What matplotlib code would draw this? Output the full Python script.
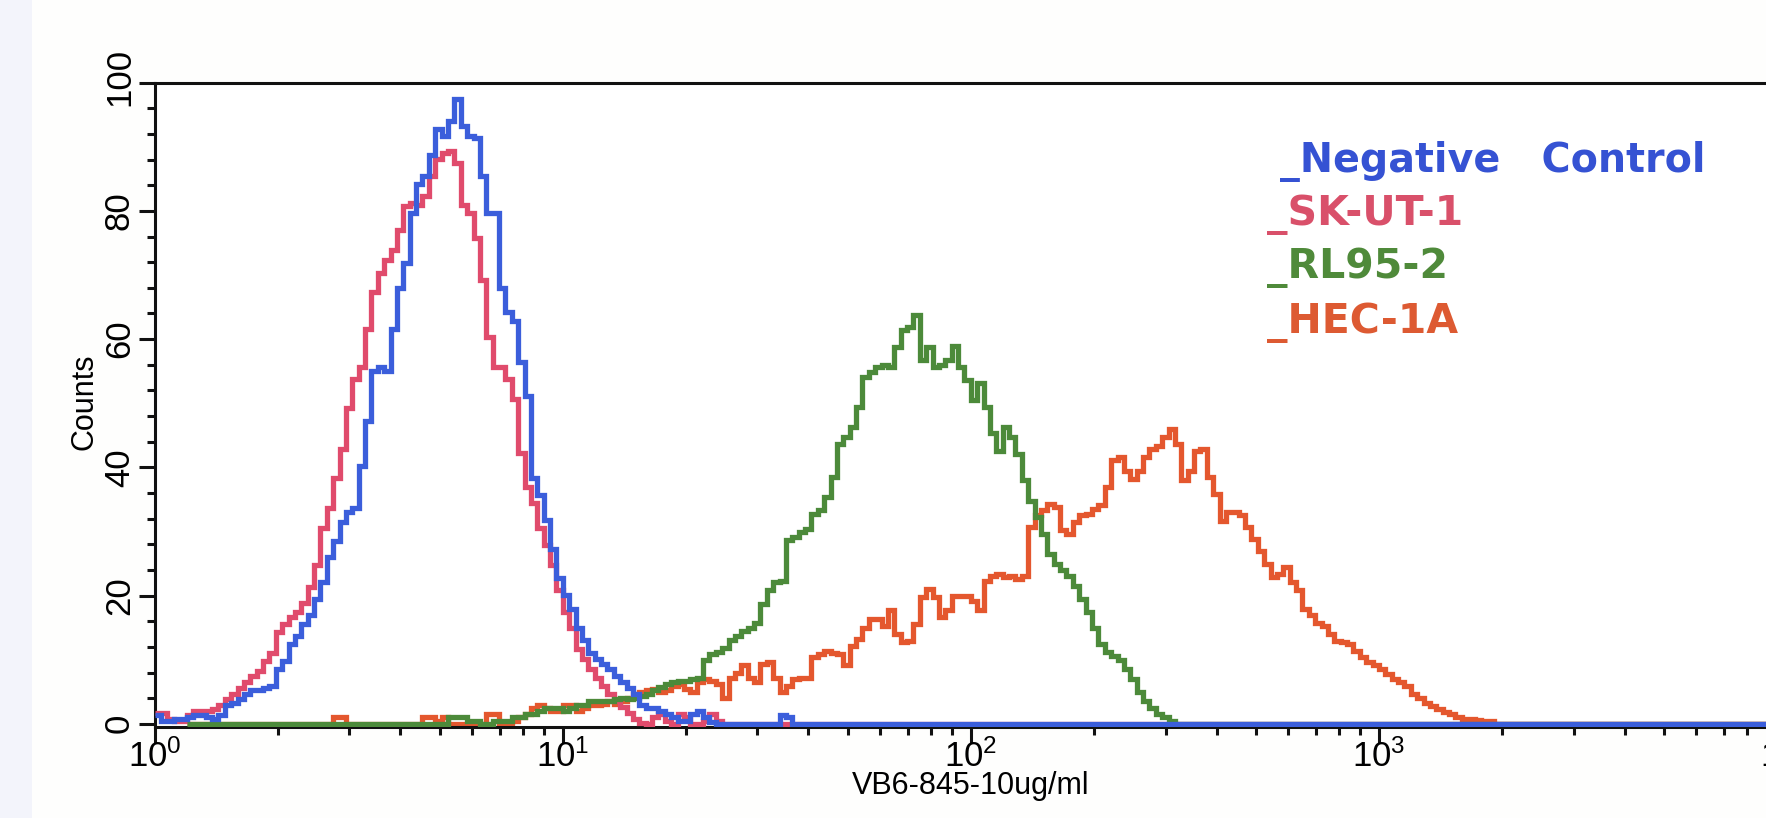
import numpy as np
import matplotlib
matplotlib.use("Agg")
import matplotlib.pyplot as plt
import matplotlib.transforms as mtransforms
from matplotlib.ticker import MultipleLocator, LogLocator, NullFormatter, FixedLocator
from matplotlib.patches import Rectangle

plt.rcParams['font.family'] = ['Liberation Sans', 'DejaVu Sans']
plt.rcParams['mathtext.fontset'] = 'custom'
plt.rcParams['mathtext.rm'] = 'Liberation Sans'
plt.rcParams['mathtext.it'] = 'Liberation Sans:italic'
plt.rcParams['mathtext.bf'] = 'Liberation Sans:bold'

# ---------------- data: 256 log channels spanning 10^0 .. 10^4 ----------------
n_channels = 256
n_decades = 4

# Negative Control (blue), counts from channel 0
neg_start = 0
neg_counts = [1.4, 0.5, 0.5, 0.7, 0.7, 1, 1.4, 1.4, 1, 0.7,
              1.4, 3, 3.3, 3.9, 4.6, 5.2, 5.2, 5.6, 5.9, 8.5,
              9.8, 12.4, 13.7, 15.6, 16.9, 19.5, 22.1, 26, 28.5, 31.5,
              33.1, 33.7, 40.2, 47.3, 55.1, 55.7, 55.1, 61.6, 68, 71.9,
              79.7, 84.2, 85.5, 88.8, 92.7, 91.7, 94, 97.5, 93.3, 91.7,
              91.4, 85.5, 79.7, 79.7, 68, 64.2, 62.9, 56.4, 51.2, 38.3,
              35.7, 31.8, 27.3, 22.7, 20.1, 17.9, 15, 13, 11.1, 10.1,
              9.4, 8.5, 7.5, 6.5, 5.6, 4.6, 3, 2.5, 2.5, 2,
              1.5, 1, 0.5, 0.5, 1.5, 2, 1, 0.3, 0, 0,
              0, 0, 0, 0, 0, 0, 0, 0, 1.3, 1]

# SK-UT-1 (pink-red), counts from channel 0
skut_start = 0
skut_counts = [1.7, 1.7, 0.7, 0.4, 0.4, 1.4, 2, 2, 2, 2.3,
               3, 3.9, 4.6, 5.6, 6.5, 7.5, 8.2, 9.8, 11.1, 14.3,
               15.6, 16.6, 17.5, 18.8, 21.4, 24.7, 30.5, 33.7, 38.3, 42.8,
               49.3, 53.8, 55.7, 61.6, 67.4, 70.3, 72.3, 73.9, 77.1, 80.7,
               81.3, 81, 82.3, 85.5, 88.1, 89.1, 89.4, 87.5, 81, 79.7,
               75.8, 69.3, 60.3, 55.7, 55.7, 53.8, 50.6, 42.2, 37, 34.4,
               30.5, 27.9, 24.7, 20.8, 17.5, 15, 11.7, 10.1, 8.5, 7.2,
               5.9, 4.6, 3.6, 2.6, 1.7, 0.7, 0.1, 0, 1, 1.5,
               0.5, 0, 1.5, 1, 0, 0, 0.5, 1.5, 0.5, 0]

# RL95-2 (green), counts from channel 46 (flat zero line before that)
rl95_start = 46
rl95_counts = [1, 1, 1, 0.5, 0.5, 0, 0, 0.5, 0.5, 0.5,
               1, 1, 1.5, 1.5, 2, 2.5, 2.5, 2.5, 2, 2.5,
               3, 3, 3.5, 3.5,
               3.6, 3.6, 3.9, 4.1, 3.9, 4.1, 4.4, 4.6, 5.2, 5.7,
               6.2, 6.5, 6.7, 6.7, 7, 7.2, 9.9, 10.9, 11.2, 11.9,
               13, 13.7, 14.5, 15, 15.8, 18.7, 20.8, 22.1, 22.3, 28.6,
               29.1, 29.9, 30.4, 32.8, 33.3, 35.4, 38.5, 43.7, 44.7, 46.3,
               49.4, 54.1, 54.9, 55.7, 55.9, 55.7, 58.8, 61.4, 61.9, 63.7,
               56.7, 58.8, 55.7, 55.9, 56.7, 59, 55.7, 53.6, 50.5, 53.1,
               49.4, 45.3, 42.6, 46.3, 44.7, 42.1, 38, 34.8, 32.2, 29.6,
               26.5, 24.9, 24, 23, 21.5, 19.5, 17.5, 15, 12.5, 11.2,
               10.5, 10, 8.5, 7, 5, 3.5, 2.5, 1.5, 1, 0.5, 0]

# HEC-1A (orange-red), counts from channel 28 (flat zero line before that)
hec_start = 28
hec_counts = [1, 1, 0, 0, 0, 0, 0, 0, 0, 0, 0, 0, 0, 0,
              1, 1, 0.5, 1, 0, 0, 0, 0, 0, 0, 1.5, 1.5, 0, 0,
              0.5, 1, 1.5, 2.5, 3, 2.5, 2, 2, 3, 3, 2, 2.5, 3, 3,
              3.1, 3.6, 3.1, 3.6, 4.1, 4.6, 4.9, 5.2, 5.4, 4.9,
              5.2, 5.9, 6.2, 5.4, 4.9, 6.5, 7, 6.7, 6.2, 4.1,
              7.2, 8, 9.1, 7.2, 6.5, 9.3, 9.6, 7.2, 4.9, 5.9,
              7, 7.2, 7.2, 10.4, 10.9, 11.4, 11.1, 10.9, 9.1, 12.2,
              13.2, 15, 16.4, 16.4, 15.3, 17.7, 14, 12.7, 12.9, 15.6,
              19.7, 21, 19.7, 16.6, 17.7, 20, 20, 20, 19.2, 17.7,
              22.3, 23.1, 23.4, 22.9, 23.1, 22.6, 23.1, 30.7, 32.5, 33.3,
              34.3, 33.8, 30.2, 29.6, 31.4, 32.5, 32.8, 33.5, 34.1, 36.9,
              41.1, 41.6, 39.5, 38.2, 39.5, 41.6, 42.9, 43.4, 44.7, 46,
              43.7, 38, 39.5, 42.6, 42.9, 38.5, 35.9, 31.7, 33, 33,
              32.5, 30.7, 28.9, 27, 24.9, 22.9, 23.4, 24.4, 22.1, 20.8,
              17.9, 16.9, 15.8, 15.3, 14, 12.9, 12.7, 12.4, 11.4, 10.4,
              9.6, 9.1, 8.5, 7.8, 7, 6.5, 5.9, 4.6, 4.1, 3.3,
              2.8, 2.3, 1.8, 1.5, 1, 0.7, 0.7, 0.6, 0.5, 0.5, 0]

series_names = ['Negative   Control', 'SK-UT-1', 'RL95-2', 'HEC-1A']
line_colors = ['#3b5edb', '#e04b6c', '#4c8a3a', '#e4572e']
text_colors = ['#3552d3', '#d9506a', '#4f8a3a', '#dd5a32']

x_ticks = [1, 10, 100, 1000, 10000]
x_tick_labels = [r'$\mathregular{10^{0}}$', r'$\mathregular{10^{1}}$',
                 r'$\mathregular{10^{2}}$', r'$\mathregular{10^{3}}$',
                 r'$\mathregular{10^{4}}$']
y_ticks = [0, 20, 40, 60, 80, 100]
x_label = 'VB6-845-10ug/ml'
y_label = 'Counts'

# ---------------- figure ----------------
W, H = 1766, 818
fig = plt.figure(figsize=(W / 100, H / 100), dpi=100, facecolor='#fefefd')
fig.patches.append(Rectangle((0, 0), 32 / W, 1, transform=fig.transFigure,
                             facecolor='#f3f4fb', edgecolor='none', zorder=-5))

ax_left, ax_right, ax_bottom, ax_top = 154.7, 1787.0, 727.0, 82.7
ax = fig.add_axes([ax_left / W, (H - ax_bottom) / H,
                   (ax_right - ax_left) / W, (ax_bottom - ax_top) / H])
ax.set_facecolor('white')

edges = 10 ** (np.arange(n_channels + 1) / (n_channels / n_decades))


def full_series(start, counts, draw_from):
    arr = np.zeros(n_channels)
    arr[start:start + len(counts)] = counts
    return arr[draw_from:], edges[draw_from:]


# (start, counts, colour index, first channel drawn)
order = [(hec_start, hec_counts, 3, 5), (skut_start, skut_counts, 1, 0),
         (rl95_start, rl95_counts, 2, 5), (neg_start, neg_counts, 0, 0)]
for z, (st, cnt, idx, d0) in enumerate(order):
    vals, eds = full_series(st, cnt, d0)
    ax.stairs(vals, eds, baseline=None, color=line_colors[idx], linewidth=3.8,
              zorder=2 + z)

ax.set_xscale('log')
ax.set_xlim(1, 10000)
ax.set_ylim(-0.5, 100)

ax.xaxis.set_major_locator(FixedLocator(x_ticks))
ax.set_xticklabels(x_tick_labels)
ax.xaxis.set_minor_locator(LogLocator(base=10, subs=np.arange(2, 10)))
ax.xaxis.set_minor_formatter(NullFormatter())
ax.yaxis.set_major_locator(FixedLocator(y_ticks))
ax.yaxis.set_minor_locator(MultipleLocator(4))

for sp in ax.spines.values():
    sp.set_linewidth(2.2)
    sp.set_color('#111111')

ax.tick_params(axis='both', which='major', direction='out', length=11.5,
               width=2.2, labelsize=25, color='#111111')
ax.tick_params(axis='both', which='minor', direction='out', length=6,
               width=2.2, color='#111111')
ax.tick_params(axis='x', which='major', pad=-3)
ax.tick_params(axis='y', which='major', pad=2, labelrotation=90)
for lab in ax.get_yticklabels():
    lab.set_va('center')

# the top y label sits a little above its tick in the reference
top_label = ax.yaxis.get_major_ticks()[-1].label1
top_label.set_transform(top_label.get_transform() +
                        mtransforms.ScaledTranslation(0, 6 / 100,
                                                      fig.dpi_scale_trans))

ax.set_ylabel(y_label, fontsize=22)
ax.yaxis.set_label_coords(-0.0338, 0.505)
ax.set_xlabel(x_label, fontsize=22)
ax.xaxis.set_label_coords(0.5, (ax_bottom - 794) / (ax_bottom - ax_top))
ax.xaxis.label.set_va('baseline')

# legend-like coloured labels
legend_x = [1280, 1267, 1267, 1267]
legend_base = [172, 225, 278, 333]
legend_size = [28.5, 29.5, 29.5, 29.5]
for name, col, lx, lb, fs in zip(series_names, text_colors, legend_x,
                                 legend_base, legend_size):
    ax.text((lx - ax_left) / (ax_right - ax_left),
            (ax_bottom - lb) / (ax_bottom - ax_top), '_' + name,
            transform=ax.transAxes, fontsize=fs, fontweight='bold',
            family=['DejaVu Sans'], color=col, ha='left', va='baseline',
            zorder=10)

fig.savefig('out.png', dpi=100, facecolor=fig.get_facecolor())
